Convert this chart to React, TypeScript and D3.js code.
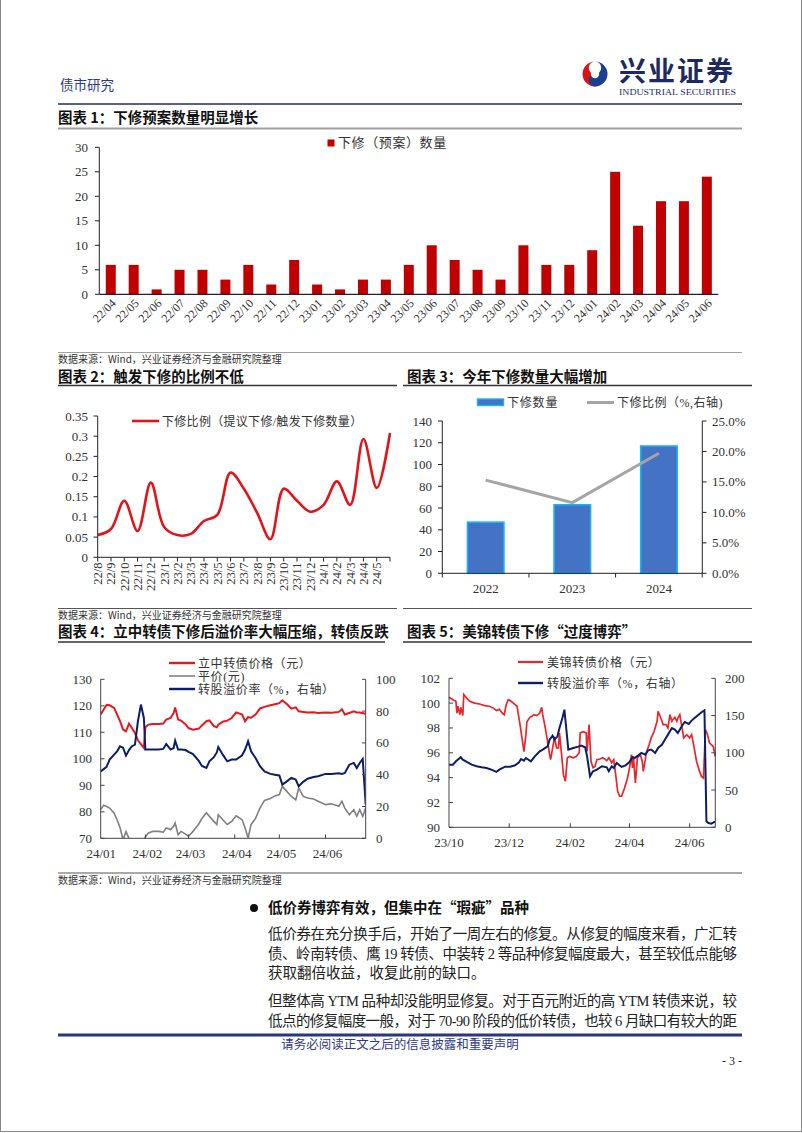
import React from 'react';
import * as d3 from 'd3';

const SERIF = "'Liberation Serif','Times New Roman','Noto Sans CJK SC',serif";
const HEI = "'Noto Sans CJK SC','Liberation Serif',sans-serif";
const parse = d3.timeParse('%Y-%m-%d');

// ---------- Chart 1: 下修（预案）数量 ----------
const c1Months = ['22/04','22/05','22/06','22/07','22/08','22/09','22/10','22/11','22/12','23/01','23/02','23/03','23/04','23/05','23/06','23/07','23/08','23/09','23/10','23/11','23/12','24/01','24/02','24/03','24/04','24/05','24/06'];
const c1Counts = [6,6,1,5,5,3,6,2,7,2,1,3,3,6,10,7,5,3,10,6,6,9,25,14,19,19,24];
const c1YTicks = [0,5,10,15,20,25,30];

// ---------- Chart 2: 下修比例 ----------
const c2Months = ['22/8','22/9','22/10','22/11','22/12','23/1','23/2','23/3','23/4','23/5','23/6','23/7','23/8','23/9','23/10','23/11','23/12','24/1','24/2','24/3','24/4','24/5','24/6'];
const c2Ratio = [0.055,0.07,0.14,0.065,0.185,0.075,0.055,0.058,0.09,0.105,0.21,0.17,0.11,0.045,0.17,0.14,0.113,0.13,0.188,0.13,0.293,0.172,0.308];
const c2YTicks = [0,0.05,0.1,0.15,0.2,0.25,0.3,0.35];

// ---------- Chart 3: 年度下修数量 ----------
const c3Years = ['2022','2023','2024'];
const c3Counts = [47,63,117];
const c3Ratio = [0.153,0.116,0.197];
const c3LeftTicks = [0,20,40,60,80,100,120,140];
const c3RightTicks = [0,0.05,0.1,0.15,0.2,0.25];

// ---------- Chart 4: 立中转债 ----------
const c4Dates = ['2024-01-02','2024-01-04','2024-01-06','2024-01-08','2024-01-11','2024-01-13','2024-01-15','2024-01-17','2024-01-19','2024-01-21',
'2024-01-23','2024-01-25','2024-01-27','2024-01-29','2024-01-31','2024-02-01','2024-02-03','2024-02-06','2024-02-10','2024-02-13',
'2024-02-15','2024-02-18','2024-02-20','2024-02-21','2024-02-23','2024-02-25','2024-02-28','2024-03-01','2024-03-04','2024-03-08',
'2024-03-10','2024-03-13','2024-03-15','2024-03-18','2024-03-20','2024-03-21','2024-03-24','2024-03-27','2024-03-30','2024-04-02',
'2024-04-06','2024-04-08','2024-04-10','2024-04-12','2024-04-15','2024-04-18','2024-04-21','2024-04-25','2024-04-28','2024-05-01',
'2024-05-03','2024-05-06','2024-05-09','2024-05-12','2024-05-14','2024-05-17','2024-05-20','2024-05-24','2024-05-27','2024-06-01',
'2024-06-05','2024-06-10','2024-06-12','2024-06-14','2024-06-17','2024-06-20','2024-06-22','2024-06-24','2024-06-26','2024-06-28'];
const c4Price = [116.7,118.6,120.4,120.2,119.2,116.7,114.2,111.0,110.4,113.3,
111.6,109.7,107.0,105.5,104.1,111.9,112.9,113.1,113.1,113.3,
114.8,115.4,117.3,119.4,114.8,114.4,113.0,111.6,111.0,111.4,
112.6,114.2,114.5,112.3,111.9,112.9,114.0,114.4,115.4,117.5,
116.7,114.2,115.7,115.5,116.7,119.0,119.6,120.2,120.6,121.0,
122.1,120.7,118.9,119.4,117.9,117.7,117.5,117.6,117.3,117.5,
117.4,117.7,118.7,116.7,117.3,117.9,117.5,117.5,117.3,116.9];
const c4Parity = [80.8,82.5,82.0,81.4,79.5,77.0,74.0,69.5,72.5,70.0,
67.6,67.0,67.0,67.5,68.0,70.5,72.0,72.6,72.6,72.3,
73.9,73.3,74.5,75.8,71.4,72.6,71.6,70.8,72.6,75.5,
77.5,79.6,78.3,76.4,75.2,78.9,77.0,75.2,76.4,78.5,
77.0,73.9,70.1,75.2,77.5,81.4,84.3,85.0,86.0,86.5,
89.6,87.7,85.8,84.5,89.0,85.8,85.2,84.8,84.0,82.7,
83.0,82.1,84.0,81.4,78.9,80.8,78.3,80.8,78.3,81.4];
const c4Premium = [42.1,43.5,45.0,49.5,52.6,54.7,57.9,57.0,52.0,55.5,
57.9,58.9,73.6,84.1,75.7,55.8,55.8,55.8,55.8,56.2,
59.3,55.8,56.8,61.4,55.8,55.8,55.5,54.3,53.0,48.5,
45.5,44.2,48.4,51.0,54.0,57.4,52.6,48.4,49.5,49.5,
52.2,55.8,61.0,54.7,50.5,45.3,42.1,40.5,40.0,39.5,
33.8,35.8,38.0,36.9,32.7,35.5,37.5,38.5,39.0,40.5,
40.5,40.9,40.5,41.1,46.3,47.4,44.2,47.4,49.9,21.2];
const c4XTicks = ['2024-01-01','2024-02-01','2024-03-01','2024-04-01','2024-05-01','2024-06-01'];
const c4LeftTicks = [70,80,90,100,110,120,130];
const c4RightTicks = [0,20,40,60,80,100];

// ---------- Chart 5: 美锦转债 ----------
const c5Price: [string, number][] = [['2023-10-01',100.47],['2023-10-05',100.28],['2023-10-08',100.15],['2023-10-09',99.2],['2023-10-10',99.75],['2023-10-12',99.07],['2023-10-13',99.66],['2023-10-15',99.0],['2023-10-16',100.7],['2023-10-19',100.4],['2023-10-22',100.15],['2023-10-27',100.0],['2023-11-01',99.93],['2023-11-06',99.8],['2023-11-11',99.75],['2023-11-15',99.6],['2023-11-18',99.4],['2023-11-21',99.5],['2023-11-24',99.2],['2023-11-26',99.07],['2023-11-28',99.88],['2023-11-30',100.28],['2023-12-03',100.15],['2023-12-07',99.88],['2023-12-09',99.75],['2023-12-12',98.27],['2023-12-14',97.2],['2023-12-16',96.1],['2023-12-18',97.5],['2023-12-19',98.5],['2023-12-22',98.86],['2023-12-24',98.94],['2023-12-26',99.07],['2023-12-29',99.0],['2024-01-01',99.2],['2024-01-03',99.66],['2024-01-04',99.07],['2024-01-06',98.27],['2024-01-09',96.9],['2024-01-11',95.85],['2024-01-12',95.45],['2024-01-15',96.8],['2024-01-16',97.3],['2024-01-18',96.4],['2024-01-20',96.4],['2024-01-21',97.6],['2024-01-23',96.0],['2024-01-25',94.24],['2024-01-27',93.7],['2024-01-29',95.6],['2024-01-31',95.7],['2024-02-04',95.6],['2024-02-07',95.7],['2024-02-10',96.0],['2024-02-11',97.6],['2024-02-14',97.7],['2024-02-17',97.6],['2024-02-18',96.1],['2024-02-20',98.27],['2024-02-22',95.3],['2024-02-24',94.8],['2024-02-26',94.9],['2024-02-28',95.45],['2024-03-02',95.5],['2024-03-05',95.6],['2024-03-09',95.37],['2024-03-11',95.6],['2024-03-14',95.2],['2024-03-16',95.45],['2024-03-18',94.24],['2024-03-20',92.9],['2024-03-22',92.5],['2024-03-24',92.5],['2024-03-27',93.17],['2024-03-30',93.97],['2024-04-01',94.78],['2024-04-03',95.85],['2024-04-04',94.78],['2024-04-05',95.7],['2024-04-07',93.57],['2024-04-09',95.6],['2024-04-12',95.85],['2024-04-14',95.3],['2024-04-15',94.5],['2024-04-17',95.45],['2024-04-18',96.0],['2024-04-21',96.66],['2024-04-23',97.2],['2024-04-26',97.73],['2024-04-29',98.54],['2024-04-30',99.34],['2024-05-02',98.94],['2024-05-04',98.54],['2024-05-05',98.27],['2024-05-08',98.27],['2024-05-10',98.0],['2024-05-12',99.07],['2024-05-14',98.54],['2024-05-15',98.67],['2024-05-17',98.86],['2024-05-19',98.54],['2024-05-20',98.8],['2024-05-22',99.07],['2024-05-24',98.13],['2024-05-26',97.2],['2024-05-29',97.46],['2024-06-01',97.2],['2024-06-03',97.46],['2024-06-05',96.66],['2024-06-08',95.3],['2024-06-11',94.5],['2024-06-13',94.1],['2024-06-15',93.97],['2024-06-17',97.87],['2024-06-19',97.5],['2024-06-21',96.8],['2024-06-23',96.66],['2024-06-25',96.5],['2024-06-27',95.7]];
const c5Premium: [string, number][] = [['2023-10-01',84.1],['2023-10-05',84.1],['2023-10-08',88.6],['2023-10-13',94.0],['2023-10-15',90.8],['2023-10-19',87.7],['2023-10-24',84.1],['2023-10-29',81.9],['2023-11-03',80.5],['2023-11-08',79.6],['2023-11-13',77.4],['2023-11-18',74.3],['2023-11-21',77.4],['2023-11-27',81.4],['2023-12-02',81.4],['2023-12-07',83.2],['2023-12-11',87.2],['2023-12-13',91.7],['2023-12-16',89.5],['2023-12-18',93.0],['2023-12-23',88.6],['2023-12-27',95.3],['2024-01-01',102.0],['2024-01-04',104.3],['2024-01-09',108.7],['2024-01-11',117.7],['2024-01-14',123.0],['2024-01-16',117.7],['2024-01-19',122.1],['2024-01-21',133.3],['2024-01-24',146.8],['2024-01-26',157.9],['2024-01-30',104.3],['2024-02-04',106.5],['2024-02-09',108.3],['2024-02-12',109.6],['2024-02-16',107.4],['2024-02-18',95.3],['2024-02-21',68.5],['2024-02-24',75.2],['2024-02-28',77.4],['2024-03-04',81.9],['2024-03-09',80.5],['2024-03-11',75.2],['2024-03-14',81.9],['2024-03-16',79.6],['2024-03-19',86.4],['2024-03-24',81.0],['2024-03-28',83.2],['2024-04-01',87.7],['2024-04-04',94.0],['2024-04-06',93.0],['2024-04-10',96.6],['2024-04-13',99.8],['2024-04-17',97.5],['2024-04-20',103.4],['2024-04-23',104.3],['2024-04-27',99.8],['2024-04-30',106.5],['2024-05-04',111.0],['2024-05-07',117.7],['2024-05-10',124.4],['2024-05-14',133.3],['2024-05-17',131.1],['2024-05-20',126.6],['2024-05-24',135.6],['2024-05-27',141.4],['2024-05-31',138.7],['2024-06-03',143.2],['2024-06-06',146.8],['2024-06-10',151.2],['2024-06-13',154.4],['2024-06-16',157.0],['2024-06-18',8.0],['2024-06-20',5.8],['2024-06-23',4.9],['2024-06-26',7.2],['2024-06-27',7.2]];
const c5XTicks = ['2023-10-01','2023-12-01','2024-02-01','2024-04-01','2024-06-01'];
const c5LeftTicks = [90,92,94,96,98,100,102];
const c5RightTicks = [0,50,100,150,200];

const AX = '#222';
const TXT = '#333';

function Chart1() {
  const x = d3.scaleBand<string>().domain(c1Months).range([99.3, 718.3]).paddingInner(0.564).paddingOuter(0.282);
  const y = d3.scaleLinear().domain([0, 30]).range([294.3, 147.3]);
  return (
    <g>
      {c1Months.map((m, i) => (
        <rect key={m} x={x(m)} y={y(c1Counts[i])} width={x.bandwidth()} height={y(0) - y(c1Counts[i])} fill="#C00000" />
      ))}
      <line x1={99.3} x2={99.3} y1={147.3} y2={294.3} stroke={AX} strokeWidth={1} />
      <line x1={99.3} x2={718.3} y1={294.3} y2={294.3} stroke={AX} strokeWidth={1.3} />
      {c1YTicks.map(t => (
        <g key={t}>
          <line x1={95} x2={99.3} y1={y(t)} y2={y(t)} stroke={AX} />
          <text x={88} y={y(t) + 4.5} textAnchor="end" fontSize={13} fill={TXT}>{t}</text>
        </g>
      ))}
      {c1Months.map(m => {
        const cx = (x(m) as number) + x.bandwidth() / 2;
        return <text key={m} transform={`translate(${cx + 6},${304}) rotate(-45)`} textAnchor="end" fontSize={12} fill={TXT}>{m}</text>;
      })}
      <rect x={327.5} y={139.5} width={7} height={7} fill="#C00000" />
      <text x={338} y={147} fontSize={13} fill={TXT} letterSpacing={0.6}>下修（预案）数量</text>
    </g>
  );
}

function Chart2() {
  const x = d3.scalePoint<string>().domain(c2Months).range([97.7, 390]);
  const y = d3.scaleLinear().domain([0, 0.35]).range([557.3, 416]);
  const line = d3.line<number>().x((_, i) => x(c2Months[i]) as number).y(d => y(d)).curve(d3.curveCatmullRom.alpha(0.5));
  return (
    <g>
      <line x1={97.7} x2={97.7} y1={416} y2={557.3} stroke={AX} />
      <line x1={97.7} x2={390} y1={557.3} y2={557.3} stroke={AX} />
      {c2YTicks.map(t => (
        <g key={t}>
          <line x1={93.5} x2={97.7} y1={y(t)} y2={y(t)} stroke={AX} />
          <text x={88} y={y(t) + 4.5} textAnchor="end" fontSize={13} fill={TXT}>{String(+t.toFixed(2))}</text>
        </g>
      ))}
      {c2Months.map((m, i) => (
        <g key={m}>
          <line x1={x(m)} x2={x(m)} y1={557.3} y2={561.5} stroke={AX} />
          {i < c2Months.length - 1 && (
            <text transform={`translate(${(x(m) as number) + 4.5},${562.5}) rotate(-90)`} textAnchor="end" fontSize={12.5} fill={TXT}>{m}</text>
          )}
        </g>
      ))}
      <path d={line(c2Ratio) || ''} fill="none" stroke="#E2141B" strokeWidth={2.6} />
      <line x1={132} x2={159} y1={421} y2={421} stroke="#E2141B" strokeWidth={2.6} />
      <text x={162} y={425.5} fontSize={12} fill={TXT} letterSpacing={0.3}>下修比例（提议下修/触发下修数量）</text>
    </g>
  );
}

function Chart3() {
  const x = d3.scaleBand<string>().domain(c3Years).range([442.3, 702.3]).paddingInner(0.579).paddingOuter(0.29);
  const yl = d3.scaleLinear().domain([0, 140]).range([573.3, 421]);
  const yr = d3.scaleLinear().domain([0, 0.25]).range([573.3, 421]);
  const step = x.step();
  const line = d3.line<number>().x((_, i) => (x(c3Years[i]) as number) + x.bandwidth() / 2).y(d => yr(d));
  const pct = d3.format('.1%');
  return (
    <g>
      {c3Years.map((yv, i) => (
        <rect key={yv} x={x(yv)} y={yl(c3Counts[i])} width={x.bandwidth()} height={yl(0) - yl(c3Counts[i])} fill="#4472C4" stroke="#17B4F0" strokeWidth={1.6} />
      ))}
      <path d={line(c3Ratio) || ''} fill="none" stroke="#A5A5A5" strokeWidth={3} />
      <line x1={442.3} x2={442.3} y1={421} y2={573.3} stroke={AX} />
      <line x1={702.3} x2={702.3} y1={421} y2={573.3} stroke={AX} />
      <line x1={442.3} x2={702.3} y1={573.3} y2={573.3} stroke={AX} />
      {c3LeftTicks.map(t => (
        <g key={t}>
          <line x1={438} x2={442.3} y1={yl(t)} y2={yl(t)} stroke={AX} />
          <text x={432} y={yl(t) + 4.5} textAnchor="end" fontSize={13} fill={TXT}>{t}</text>
        </g>
      ))}
      {c3RightTicks.map(t => (
        <g key={t}>
          <line x1={702.3} x2={706.5} y1={yr(t)} y2={yr(t)} stroke={AX} />
          <text x={712} y={yr(t) + 4.5} fontSize={13} fill={TXT}>{pct(t)}</text>
        </g>
      ))}
      {[0, 1, 2, 3].map(k => (
        <line key={k} x1={442.3 + k * step} x2={442.3 + k * step} y1={573.3} y2={577.5} stroke={AX} />
      ))}
      {c3Years.map(yv => (
        <text key={yv} x={(x(yv) as number) + x.bandwidth() / 2} y={593} textAnchor="middle" fontSize={13} fill={TXT}>{yv}</text>
      ))}
      <rect x={477.5} y={399} width={26} height={6.5} fill="#4472C4" stroke="#17B4F0" strokeWidth={1.4} />
      <text x={507} y={407} fontSize={12} fill={TXT} letterSpacing={0.8}>下修数量</text>
      <line x1={587} x2={614} y1={402.5} y2={402.5} stroke="#A5A5A5" strokeWidth={3} />
      <text x={617} y={407} fontSize={12} fill={TXT} letterSpacing={0.5}>下修比例（%,右轴)</text>
    </g>
  );
}

function Chart4() {
  const x = d3.scaleTime().domain([parse('2024-01-02') as Date, parse('2024-06-28') as Date]).range([100.7, 365.7]);
  const yl = d3.scaleLinear().domain([70, 130]).range([838.3, 679.3]);
  const yr = d3.scaleLinear().domain([0, 100]).range([838.3, 679.3]);
  const dates = c4Dates.map(d => parse(d) as Date);
  const lineL = d3.line<number>().x((_, i) => x(dates[i])).y(d => yl(d));
  const lineR = d3.line<number>().x((_, i) => x(dates[i])).y(d => yr(d));
  const fmt = d3.timeFormat('%y/%m');
  return (
    <g>
      <defs>
        <clipPath id="c4clip"><rect x={100.7} y={679.3} width={265} height={159} /></clipPath>
      </defs>
      <g clipPath="url(#c4clip)">
        <path d={lineL(c4Parity) || ''} fill="none" stroke="#808080" strokeWidth={1.6} />
        <path d={lineL(c4Price) || ''} fill="none" stroke="#E3191F" strokeWidth={2} />
        <path d={lineR(c4Premium) || ''} fill="none" stroke="#0B1F66" strokeWidth={2} />
      </g>
      <line x1={100.7} x2={100.7} y1={679.3} y2={838.3} stroke="#444" />
      <line x1={365.7} x2={365.7} y1={679.3} y2={838.3} stroke="#444" />
      <line x1={100.7} x2={365.7} y1={838.3} y2={838.3} stroke="#444" />
      {c4LeftTicks.map(t => (
        <g key={t}>
          <line x1={100.7} x2={104.5} y1={yl(t)} y2={yl(t)} stroke="#444" />
          <text x={92} y={yl(t) + 4.5} textAnchor="end" fontSize={13} fill={TXT}>{t}</text>
        </g>
      ))}
      {c4RightTicks.map(t => (
        <g key={t}>
          <line x1={362} x2={365.7} y1={yr(t)} y2={yr(t)} stroke="#444" />
          <text x={376} y={yr(t) + 4.5} fontSize={13} fill={TXT}>{t}</text>
        </g>
      ))}
      {c4XTicks.map((d, i) => {
        const xd = x(parse(d) as Date);
        return (
          <g key={d}>
            {i > 0 && <line x1={xd} x2={xd} y1={834.5} y2={838.3} stroke="#444" />}
            <text x={xd + 2} y={858} textAnchor="middle" fontSize={13} fill={TXT}>{fmt(parse(d) as Date)}</text>
          </g>
        );
      })}
      <line x1={169} x2={195} y1={663} y2={663} stroke="#E3191F" strokeWidth={2.4} />
      <text x={198} y={667.5} fontSize={12} fill={TXT} letterSpacing={0.6}>立中转债价格（元）</text>
      <line x1={169} x2={195} y1={676} y2={676} stroke="#808080" strokeWidth={1.6} />
      <text x={198} y={680.5} fontSize={12} fill={TXT} letterSpacing={0.6}>平价(元)</text>
      <line x1={169} x2={195} y1={689} y2={689} stroke="#0B1F66" strokeWidth={2.4} />
      <text x={198} y={693.5} fontSize={12} fill={TXT} letterSpacing={0.6}>转股溢价率（%，右轴）</text>
    </g>
  );
}

function Chart5() {
  const x = d3.scaleTime().domain([parse('2023-10-01') as Date, parse('2024-06-27') as Date]).range([449, 715.3]);
  const yl = d3.scaleLinear().domain([90, 102]).range([827.3, 678.3]);
  const yr = d3.scaleLinear().domain([0, 200]).range([827.3, 678.3]);
  const lineL = d3.line<[string, number]>().x(d => x(parse(d[0]) as Date)).y(d => yl(d[1]));
  const lineR = d3.line<[string, number]>().x(d => x(parse(d[0]) as Date)).y(d => yr(d[1]));
  const fmt = d3.timeFormat('%y/%m');
  return (
    <g>
      <path d={lineL(c5Price) || ''} fill="none" stroke="#E8262B" strokeWidth={1.7} />
      <path d={lineR(c5Premium) || ''} fill="none" stroke="#0B1F66" strokeWidth={2} />
      <line x1={449} x2={449} y1={678.3} y2={827.3} stroke="#444" />
      <line x1={715.3} x2={715.3} y1={678.3} y2={827.3} stroke="#444" />
      <line x1={449} x2={715.3} y1={827.3} y2={827.3} stroke="#444" />
      {c5LeftTicks.map(t => (
        <g key={t}>
          <line x1={449} x2={453} y1={yl(t)} y2={yl(t)} stroke="#444" />
          <text x={440} y={yl(t) + 4.5} textAnchor="end" fontSize={13} fill={TXT}>{t}</text>
        </g>
      ))}
      {c5RightTicks.map(t => (
        <g key={t}>
          <line x1={711.3} x2={715.3} y1={yr(t)} y2={yr(t)} stroke="#444" />
          <text x={725} y={yr(t) + 4.5} fontSize={13} fill={TXT}>{t}</text>
        </g>
      ))}
      {c5XTicks.map((d, i) => {
        const xd = x(parse(d) as Date);
        return (
          <g key={d}>
            {i > 0 && <line x1={xd} x2={xd} y1={823.3} y2={827.3} stroke="#444" />}
            <text x={xd} y={847} textAnchor="middle" fontSize={13} fill={TXT}>{fmt(parse(d) as Date)}</text>
          </g>
        );
      })}
      <line x1={518} x2={543} y1={662} y2={662} stroke="#E8262B" strokeWidth={2.2} />
      <text x={547} y={666.5} fontSize={12} fill={TXT} letterSpacing={0.6}>美锦转债价格（元）</text>
      <line x1={518} x2={543} y1={683} y2={683} stroke="#0B1F66" strokeWidth={2.4} />
      <text x={547} y={687.5} fontSize={12} fill={TXT} letterSpacing={0.6}>转股溢价率（%，右轴）</text>
    </g>
  );
}

const SRC = '数据来源：Wind，兴业证券经济与金融研究院整理';

export default function App() {
  return (
    <svg width={802} height={1133} style={{ position: 'absolute', left: 0, top: 0, display: 'block' }} fontFamily={SERIF}>
      <rect x={0} y={0} width={802} height={1133} fill="#fff" />
      {/* page frame */}
      <line x1={0.5} x2={0.5} y1={0} y2={1131.5} stroke="#8a8a8a" />
      <line x1={801.5} x2={801.5} y1={0} y2={1131.5} stroke="#8a8a8a" />
      <line x1={0} x2={802} y1={1131.5} y2={1131.5} stroke="#8a8a8a" />

      {/* header */}
      <text x={60} y={90} fontSize={13.5} fill="#2E3A8C" fontFamily={HEI}>债市研究</text>
      <path d="M595,61.5 A12.5,12.5 0 0,0 595,86.5 A6.25,6.25 0 0,0 595,74 A6.25,6.25 0 0,1 595,61.5 Z" fill="#D6141B" />
      <path d="M595,61.5 A12.5,12.5 0 0,1 595,86.5 A6.25,6.25 0 0,1 595,74 A6.25,6.25 0 0,0 595,61.5 Z" fill="#1B3E8F" />
      <circle cx={595} cy={74} r={4.2} fill="#fff" />
      <text x={619} y={81} fontSize={27} fontWeight="bold" fill="#1E2A5E" fontFamily={HEI} letterSpacing={2}>兴业证券</text>
      <text x={619} y={94.5} fontSize={8} fill="#1E2A5E" textLength={117} lengthAdjust="spacingAndGlyphs">INDUSTRIAL SECURITIES</text>
      <line x1={58} x2={742} y1={104} y2={104} stroke="#5A5F86" strokeWidth={2} />

      {/* chart 1 */}
      <text x={58} y={123} fontSize={14.5} fontWeight="bold" fill="#111" fontFamily={HEI}>图表 1：下修预案数量明显增长</text>
      <line x1={58} x2={742} y1={128.5} y2={128.5} stroke="#A0A0A0" strokeWidth={2} />
      <Chart1 />
      <line x1={58} x2={742} y1={352.5} y2={352.5} stroke="#A0A0A0" strokeWidth={1.2} />
      <text x={58} y={362.5} fontSize={10} fill="#333" fontFamily={HEI}>{SRC}</text>

      {/* chart 2 & 3 */}
      <text x={58} y={381.5} fontSize={14.5} fontWeight="bold" fill="#111" fontFamily={HEI}>图表 2：触发下修的比例不低</text>
      <text x={407} y={381.5} fontSize={14.5} fontWeight="bold" fill="#111" fontFamily={HEI}>图表 3：今年下修数量大幅增加</text>
      <line x1={58} x2={397} y1={385.5} y2={385.5} stroke="#333" strokeWidth={1.3} />
      <line x1={403} x2={752} y1={385.5} y2={385.5} stroke="#333" strokeWidth={1.3} />
      <Chart2 />
      <Chart3 />
      <line x1={58} x2={397} y1={608.5} y2={608.5} stroke="#555" strokeWidth={1.2} />
      <line x1={403} x2={752} y1={608.5} y2={608.5} stroke="#555" strokeWidth={1.2} />
      <text x={58} y={618.5} fontSize={10} fill="#333" fontFamily={HEI}>{SRC}</text>

      {/* chart 4 & 5 */}
      <text x={58} y={636.5} fontSize={14.5} fontWeight="bold" fill="#111" fontFamily={HEI}>图表 4：立中转债下修后溢价率大幅压缩，转债反跌</text>
      <text x={407} y={636.5} fontSize={14.5} fontWeight="bold" fill="#111" fontFamily={HEI}>图表 5：美锦转债下修“过度博弈”</text>
      <line x1={58} x2={385} y1={642} y2={642} stroke="#333" strokeWidth={1.3} />
      <line x1={403} x2={752} y1={642} y2={642} stroke="#333" strokeWidth={1.3} />
      <Chart4 />
      <Chart5 />
      <line x1={58} x2={742} y1={873} y2={873} stroke="#555" strokeWidth={1.2} />
      <text x={58} y={884} fontSize={10} fill="#333" fontFamily={HEI}>{SRC}</text>

      {/* body text */}
      <circle cx={254} cy={908} r={4} fill="#111" />
      <text x={268} y={913} fontSize={14.5} fontWeight="bold" fill="#111" fontFamily={HEI}>低价券博弈有效，但集中在“瑕疵”品种</text>
      <g fontSize={14.5} fill="#222" fontFamily={SERIF}>
        <text x={268} y={939} textLength={469} lengthAdjust="spacing">低价券在充分换手后，开始了一周左右的修复。从修复的幅度来看，广汇转</text>
        <text x={268} y={958.5} textLength={469} lengthAdjust="spacing">债、岭南转债、鹰 19 转债、中装转 2 等品种修复幅度最大，甚至较低点能够</text>
        <text x={268} y={978}>获取翻倍收益，收复此前的缺口。</text>
        <text x={268} y={1006} textLength={469} lengthAdjust="spacing">但整体高 YTM 品种却没能明显修复。对于百元附近的高 YTM 转债来说，较</text>
        <text x={268} y={1025.5} textLength={469} lengthAdjust="spacing">低点的修复幅度一般，对于 70-90 阶段的低价转债，也较 6 月缺口有较大的距</text>
      </g>

      {/* footer */}
      <line x1={58} x2={742} y1={1035} y2={1035} stroke="#2E3580" strokeWidth={3} />
      <text x={400} y={1049} textAnchor="middle" fontSize={12.5} fill="#2E3A8C" fontFamily={HEI}>请务必阅读正文之后的信息披露和重要声明</text>
      <text x={742} y={1065} textAnchor="end" fontSize={12} fill="#222">- 3 -</text>
    </svg>
  );
}
